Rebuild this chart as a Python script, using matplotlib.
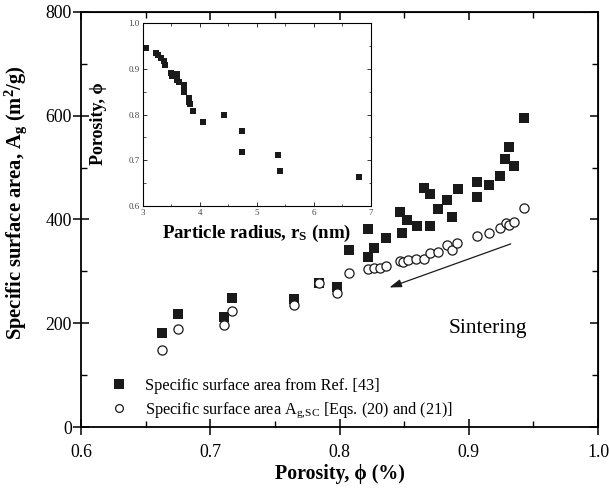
import matplotlib
matplotlib.use("Agg")
import matplotlib.pyplot as plt
from matplotlib.ticker import MultipleLocator

plt.rcParams['font.family'] = ['Liberation Serif', 'DejaVu Serif']
plt.rcParams['mathtext.fontset'] = 'custom'
plt.rcParams['mathtext.rm'] = 'Liberation Serif'
plt.rcParams['mathtext.it'] = 'Liberation Serif:italic'
plt.rcParams['mathtext.bf'] = 'Liberation Serif:bold'

# Main data: specific surface area vs porosity
ref_phi = [0.663, 0.675, 0.711, 0.717, 0.765, 0.784, 0.798, 0.807, 0.822, 0.822, 0.827, 0.836,
           0.847, 0.848, 0.852, 0.860, 0.865, 0.870, 0.870, 0.876, 0.883, 0.887, 0.892,
           0.906, 0.906, 0.916, 0.924, 0.928, 0.931, 0.935, 0.943]
ref_A = [182, 218, 213, 249, 246, 277, 270, 342, 381, 328, 345, 365,
         414, 374, 399, 387, 460, 450, 387, 420, 437, 404, 458,
         473, 443, 466, 484, 516, 540, 504, 595]

sc_phi = [0.663, 0.675, 0.711, 0.717, 0.765, 0.784, 0.798, 0.807, 0.822, 0.827, 0.831, 0.836,
          0.847, 0.849, 0.853, 0.859, 0.865, 0.870, 0.876, 0.883, 0.887, 0.891,
          0.906, 0.916, 0.924, 0.929, 0.931, 0.935, 0.943]
sc_A = [148, 189, 197, 224, 235, 277, 258, 296, 304, 306, 306, 311,
        320, 319, 322, 323, 324, 336, 338, 351, 341, 355,
        369, 374, 384, 394, 389, 396, 423]

# Inset data: porosity vs particle radius
inset_r = [3.06, 3.23, 3.26, 3.32, 3.37, 3.40, 3.49, 3.51, 3.61, 3.61, 3.63, 3.72, 3.72,
           3.73, 3.81, 3.82, 3.83, 3.89, 4.06, 4.42, 4.74, 4.75, 5.37, 5.40, 6.80]
inset_phi = [0.945, 0.934, 0.930, 0.925, 0.918, 0.909, 0.892, 0.884, 0.889, 0.876, 0.872,
             0.865, 0.856, 0.849, 0.836, 0.827, 0.823, 0.809, 0.785, 0.799, 0.765, 0.718,
             0.711, 0.676, 0.663]

PHI = '\u03d5'

fig = plt.figure(figsize=(6.09, 4.92), dpi=100)
ax = fig.add_axes([81/609, 1-427/492, (598-81)/609, (427-12)/492])

ax.plot(ref_phi, ref_A, 's', color='#1a1a1a', markersize=7.8, markeredgewidth=0,
        label='Specific surface area from Ref. [43]', zorder=3)
ax.plot(sc_phi, sc_A, 'o', markerfacecolor='white', markeredgecolor='#1a1a1a',
        markersize=6.6, markeredgewidth=0.9,
        label=r'Specific surface area A$_{\mathrm{g{,}SC}}$ [Eqs. (20) and (21)]', zorder=4)

ax.set_xlim(0.6, 1.0)
ax.set_ylim(0, 800)
ax.xaxis.set_major_locator(MultipleLocator(0.1))
ax.xaxis.set_minor_locator(MultipleLocator(0.05))
ax.yaxis.set_major_locator(MultipleLocator(200))
ax.yaxis.set_minor_locator(MultipleLocator(100))
ax.xaxis.set_major_formatter(plt.FuncFormatter(lambda v, p: f"{v:.1f}"))
ax.tick_params(axis='both', which='major', direction='inout', length=11, width=1.1,
               labelsize=12.8, top=False, right=False)
ax.tick_params(axis='both', which='minor', direction='in', length=4.5, width=1.0,
               top=False, right=False)
ax.tick_params(axis='x', which='major', pad=7)
ax.tick_params(axis='y', which='major', pad=1)
for s in ax.spines.values():
    s.set_linewidth(1.3)

secx = ax.secondary_xaxis('top')
secx.xaxis.set_major_locator(MultipleLocator(0.1))
secx.xaxis.set_minor_locator(MultipleLocator(0.05))
secx.tick_params(which='major', direction='in', length=6, width=1.1, labeltop=False)
secx.tick_params(which='minor', direction='in', length=4, width=1.0)
secy = ax.secondary_yaxis('right')
secy.yaxis.set_major_locator(MultipleLocator(200))
secy.yaxis.set_minor_locator(MultipleLocator(100))
secy.tick_params(which='major', direction='in', length=6, width=1.1, labelright=False)
secy.tick_params(which='minor', direction='in', length=4, width=1.0)

ax.set_xlabel(f'Porosity, {PHI} (%)', fontsize=14.3, fontweight='bold')
ax.xaxis.set_label_coords(0.5, -0.09)
ax.set_ylabel(r'Specific surface area, A$_{\mathbf{g}}$ (m$^{\mathbf{2}}$/g)', fontsize=14.8,
              fontweight='bold')
ax.yaxis.set_label_coords(-0.1, 0.54)

ax.annotate('', xy=(0.8386, 269), xytext=(0.9325, 353),
            arrowprops=dict(arrowstyle='-|>,head_length=0.6,head_width=0.2', color='#1a1a1a',
                            lw=0.9, mutation_scale=12, shrinkA=0, shrinkB=0))
ax.text(0.9145, 190, 'Sintering', fontsize=15.5, ha='center', va='center')

leg = ax.legend(loc='lower left', bbox_to_anchor=(0.03, 0.0), frameon=False,
                fontsize=11.7, handletextpad=0.6, labelspacing=0.45, borderaxespad=0,
                markerscale=0.85)

# Inset
ins = fig.add_axes([142.7/609, 1-206/492, (370.7-142.7)/609, (206-23.3)/492])
ins.plot(inset_r, inset_phi, 's', color='#1a1a1a', markersize=4.0, markeredgewidth=0)
ins.set_xlim(3, 7)
ins.set_ylim(0.6, 1.0)
ins.xaxis.set_major_locator(MultipleLocator(1))
ins.xaxis.set_minor_locator(MultipleLocator(0.5))
ins.yaxis.set_major_locator(MultipleLocator(0.1))
ins.yaxis.set_minor_locator(MultipleLocator(0.05))
ins.yaxis.set_major_formatter(plt.FuncFormatter(lambda v, p: f"{v:.1f}"))
ins.tick_params(which='both', direction='in', top=True, right=True, labelsize=6.5,
                color='#333333', labelcolor='#444444')
ins.tick_params(which='major', length=3, width=0.7, pad=2)
ins.tick_params(which='minor', length=1.8, width=0.6)
for s in ins.spines.values():
    s.set_linewidth(0.8)
ins.set_xlabel(r'Particle radius, r$_{\mathbf{S}}$ (nm)', fontsize=13.6, fontweight='bold')
ins.xaxis.set_label_coords(0.5, -0.095)
ins.set_ylabel(f'Porosity, {PHI}', fontsize=13, fontweight='bold')
ins.yaxis.set_label_coords(-0.155, 0.45)

fig.savefig('out.png', dpi=100)
